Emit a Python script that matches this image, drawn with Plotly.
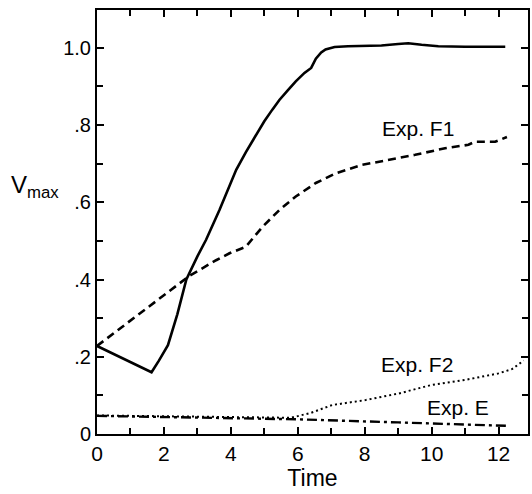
import plotly.graph_objects as go

# Solid (upper) curve
solid_x = [0, 0.8, 1.63, 1.85, 2.12, 2.4, 2.67, 3.0, 3.26, 3.66, 3.96, 4.16, 4.45, 4.65, 5.0, 5.24,
           5.45, 5.7, 5.94, 6.2, 6.4, 6.54, 6.7, 6.83, 7.1, 7.5, 8.0, 8.5, 9.0, 9.3, 9.7, 10.2, 11.0, 12.2]
solid_y = [0.228, 0.195, 0.16, 0.19, 0.23, 0.31, 0.40, 0.46, 0.503, 0.58, 0.64, 0.684, 0.73, 0.76, 0.81, 0.84,
           0.865, 0.89, 0.913, 0.935, 0.948, 0.972, 0.988, 0.996, 1.002, 1.004, 1.005, 1.006, 1.01, 1.012, 1.008,
           1.004, 1.003, 1.003]

# Exp. F1 (dashed)
f1_x = [0, 2.77, 3.56, 3.96, 4.45, 4.95, 5.45, 5.94, 6.54, 7.13, 7.93, 8.72, 9.51, 10.4, 11.1, 11.3, 11.9, 12.25]
f1_y = [0.228, 0.41, 0.45, 0.468, 0.485, 0.537, 0.58, 0.615, 0.65, 0.675, 0.697, 0.71, 0.723, 0.74, 0.749,
        0.757, 0.757, 0.769]

# Exp. F2 (dotted)
f2_x = [0, 2, 4, 5.8, 6.4, 7.03, 8.03, 9.02, 10.0, 11.0, 12.0, 12.4, 12.75]
f2_y = [0.048, 0.046, 0.044, 0.042, 0.055, 0.075, 0.088, 0.105, 0.127, 0.14, 0.157, 0.168, 0.19]

# Exp. E (dash-dot)
e_x = [0, 3, 6, 9, 12.3]
e_y = [0.047, 0.043, 0.038, 0.03, 0.021]

x_ticks = [0, 2, 4, 6, 8, 10, 12]
x_ticktext = ["0", "2", "4", "6", "8", "10", "12"]
y_ticks = [0, 0.2, 0.4, 0.6, 0.8, 1.0]
y_ticktext = ["0", ".2", ".4", ".6", ".8", "1.0"]

FONT = "Liberation Sans, Arial, sans-serif"

fig = go.Figure()
fig.add_trace(go.Scatter(x=solid_x, y=solid_y, mode="lines",
                         line=dict(color="black", width=2.6)))
fig.add_trace(go.Scatter(x=f1_x, y=f1_y, mode="lines",
                         line=dict(color="black", width=2.6, dash="8px,5px")))
fig.add_trace(go.Scatter(x=f2_x, y=f2_y, mode="lines",
                         line=dict(color="black", width=2, dash="2px,3px")))
fig.add_trace(go.Scatter(x=e_x, y=e_y, mode="lines",
                         line=dict(color="black", width=2.4, dash="10px,4px,3px,4px")))

fig.add_annotation(x=9.6, y=0.79, text="Exp. F1", showarrow=False,
                   font=dict(size=21, color="black", family=FONT))
fig.add_annotation(x=9.55, y=0.18, text="Exp. F2", showarrow=False,
                   font=dict(size=21, color="black", family=FONT))
fig.add_annotation(x=10.8, y=0.068, text="Exp. E", showarrow=False,
                   font=dict(size=21, color="black", family=FONT))
fig.add_annotation(x=-0.205, xref="paper", y=0.64, yref="y", xanchor="left",
                   text="V<sub>max</sub>", showarrow=False,
                   font=dict(size=24, color="black", family=FONT))

fig.update_layout(
    width=532, height=494,
    margin=dict(l=97, r=2, t=10, b=60),
    paper_bgcolor="white", plot_bgcolor="white",
    showlegend=False,
    font=dict(family=FONT, color="black"),
    xaxis=dict(range=[0, 12.88], tickvals=x_ticks, ticktext=x_ticktext,
               ticks="inside", ticklen=7, tickwidth=1.5, tickcolor="black",
               minor=dict(dtick=1, ticks="inside", ticklen=6, tickwidth=1.5, tickcolor="black"),
               showline=True, linecolor="black", linewidth=2, mirror="ticks",
               showgrid=False, zeroline=False,
               tickfont=dict(size=21, family=FONT),
               title=dict(text="Time", font=dict(size=23, family=FONT), standoff=5)),
    yaxis=dict(range=[0, 1.098], tickvals=y_ticks, ticktext=y_ticktext,
               ticks="inside", ticklen=7, tickwidth=1.5, tickcolor="black",
               minor=dict(dtick=0.1, tick0=0, ticks="inside", ticklen=6, tickwidth=1.5, tickcolor="black"),
               showline=True, linecolor="black", linewidth=2, mirror="ticks",
               showgrid=False, zeroline=False,
               tickfont=dict(size=20, family=FONT)),
)

fig.write_html("out.html")
